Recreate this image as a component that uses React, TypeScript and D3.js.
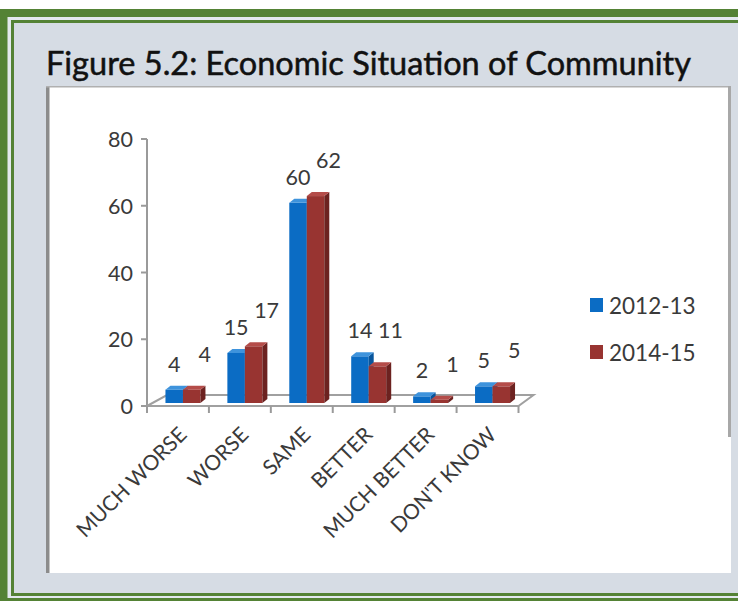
import React from "react";
import * as d3 from "d3";

const categories = ["MUCH WORSE", "WORSE", "SAME", "BETTER", "MUCH BETTER", "DON'T KNOW"];
const series2012 = [4, 15, 60, 14, 2, 5];
const series2014 = [4, 17, 62, 11, 1, 5];
const seriesNames = ["2012-13", "2014-15"];
const yTicks = [0, 20, 40, 60, 80];
const title = "Figure 5.2: Economic Situation of Community";

const W = 738;
const H = 601;
const FONT = "Lato, 'Open Sans', sans-serif";

const GREEN = "#548235";
const BG = "#d6dce4";
const LIGHT = "#e3e8ee";

const blue = { front: "#0b6cc4", top: "#3e93dc", side: "#08559c" };
const red = { front: "#983431", top: "#b44c49", side: "#6c2220" };

export default function App() {
  const x = d3.scaleBand<string>().domain(categories).range([147, 518.5]);
  const y = d3.scaleLinear().domain([0, 80]).range([406, 139]);
  const base = 403;
  const bw = 17.5;
  const dx = 5;
  const dy = -4;
  const shift = 5;

  const bar = (cx: number, v: number, c: typeof blue, key: string) => {
    const top = base - (y(0) - y(v));
    const x0 = cx - bw / 2;
    const x1 = cx + bw / 2;
    return (
      <g key={key}>
        <rect x={x0} y={top} width={bw} height={base - top} fill={c.front} />
        <polygon
          points={`${x1},${top} ${x1 + dx},${top + dy} ${x1 + dx},${base + dy} ${x1},${base}`}
          fill={c.side}
        />
        <polygon
          points={`${x0},${top} ${x0 + dx},${top + dy} ${x1 + dx},${top + dy} ${x1},${top}`}
          fill={c.top}
        />
      </g>
    );
  };

  const band = x.bandwidth();
  const left = x.range()[0];
  const right = x.range()[1];

  return (
    <svg
      width={W}
      height={H}
      style={{ position: "absolute", left: 0, top: 0, display: "block" }}
      xmlns="http://www.w3.org/2000/svg"
    >
      <rect x={0} y={0} width={W} height={H} fill="#ffffff" />
      {/* frame */}
      <rect x={0} y={9} width={W + 40} height={H + 20} fill={GREEN} />
      <rect x={7.5} y={17} width={W + 40} height={581} fill={LIGHT} />
      <rect x={11} y={20} width={W + 40} height={576} fill={GREEN} />
      <rect x={14} y={23} width={W + 40} height={570} fill={BG} />

      {/* title */}
      <text
        x={46}
        y={75}
        fontFamily={FONT}
        fontSize={32.5}
        textLength={645}
        lengthAdjust="spacingAndGlyphs"
        fill="#111111"
        stroke="#111111"
        strokeWidth={0.5}
      >
        {title}
      </text>

      {/* chart panel */}
      <rect x={47} y={86} width={684} height={487} fill="#ffffff" />
      <rect x={46} y={86} width={3.5} height={487} fill="#8c8c8c" />
      <rect x={46} y={86} width={685} height={1.5} fill="#b0b0b0" />
      <rect x={728} y={86} width={3} height={351} fill="#a8a8a8" />

      {/* y axis */}
      <line x1={147} x2={147} y1={y(80)} y2={y(0)} stroke="#9a9a9a" strokeWidth={2} />
      {yTicks.map((t) => (
        <g key={t}>
          <line x1={141} x2={147} y1={y(t)} y2={y(t)} stroke="#9a9a9a" strokeWidth={2} />
          <text
            x={133}
            y={y(t)}
            textAnchor="end"
            dominantBaseline="central"
            fontFamily={FONT}
            fontSize={21.5}
            fill="#3a3a3a"
          >
            {t}
          </text>
        </g>
      ))}

      {/* floor */}
      <polygon
        points={`${left},${y(0)} ${left + 20},${y(0) - 11} ${right + 15},${y(0) - 11} ${right},${y(0)}`}
        fill="none"
        stroke="#a0a0a0"
        strokeWidth={2}
      />
      {d3.range(categories.length + 1).map((i) => (
        <line
          key={i}
          x1={left + i * band}
          x2={left + i * band}
          y1={y(0)}
          y2={y(0) + 7}
          stroke="#9a9a9a"
          strokeWidth={2}
        />
      ))}

      {/* bars */}
      {categories.map((c, i) => {
        const cx = (x(c) as number) + band / 2 + shift;
        return (
          <g key={c}>
            {bar(cx - bw / 2, series2012[i], blue, "b")}
            {bar(cx + bw / 2, series2014[i], red, "r")}
          </g>
        );
      })}

      {/* data labels */}
      {categories.map((c, i) => {
        const cx = (x(c) as number) + band / 2 + shift;
        const tb = base - (y(0) - y(series2012[i]));
        const tr = base - (y(0) - y(series2014[i]));
        return (
          <g key={c} fontFamily={FONT} fontSize={21.5} fill="#3a3a3a">
            <text x={cx - bw / 2} y={tb - 26} textAnchor="middle" dominantBaseline="central">
              {series2012[i]}
            </text>
            <text x={cx + bw / 2 + 13} y={tr - 36} textAnchor="middle" dominantBaseline="central">
              {series2014[i]}
            </text>
          </g>
        );
      })}

      {/* x labels */}
      {categories.map((c) => {
        const cx = (x(c) as number) + band / 2 + 10;
        const ly = 436;
        return (
          <text
            key={c}
            x={cx}
            y={ly}
            transform={`rotate(-45 ${cx} ${ly})`}
            textAnchor="end"
            fontFamily={FONT}
            fontSize={21}
            fill="#3a3a3a"
          >
            {c}
          </text>
        );
      })}

      {/* legend */}
      {seriesNames.map((s, i) => (
        <g key={s}>
          <rect x={590} y={298 + i * 47} width={13} height={14} fill={i === 0 ? blue.front : red.front} />
          <text
            x={609}
            y={305 + i * 47}
            dominantBaseline="central"
            fontFamily={FONT}
            fontSize={22.5}
            fill="#3a3a3a"
          >
            {s}
          </text>
        </g>
      ))}
    </svg>
  );
}
